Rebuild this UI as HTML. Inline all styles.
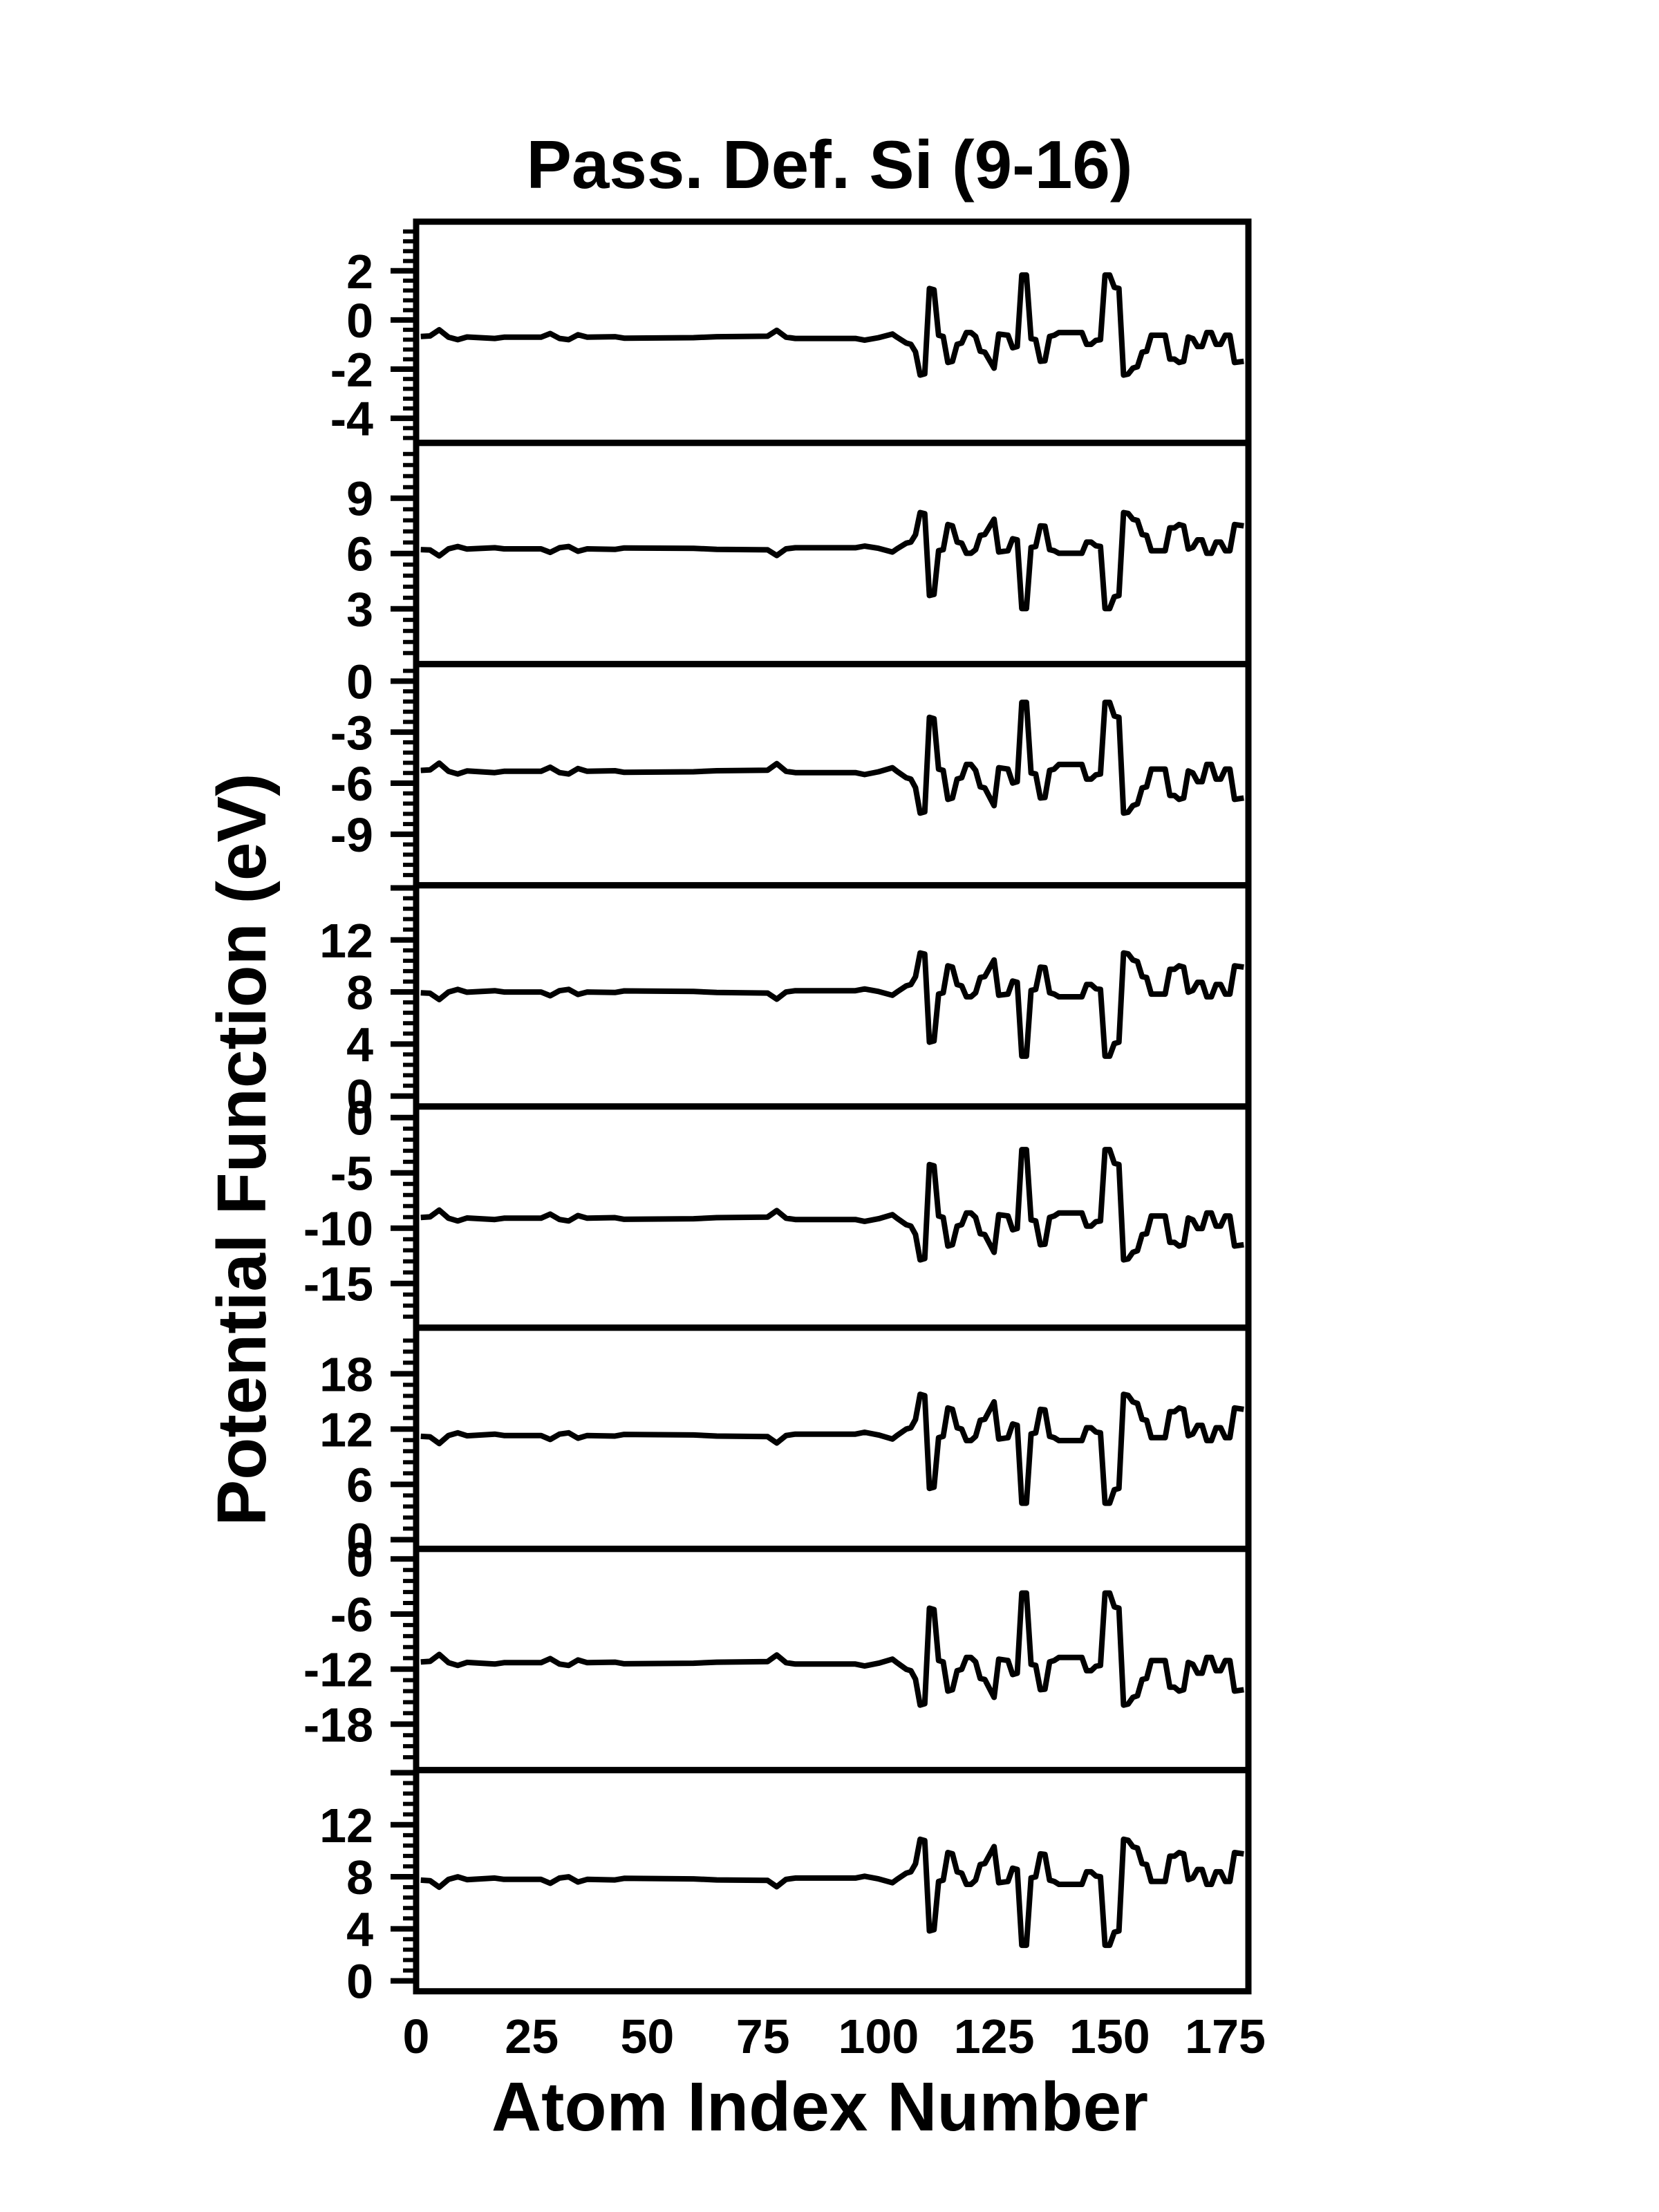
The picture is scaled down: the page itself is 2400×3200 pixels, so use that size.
<!DOCTYPE html>
<html><head><meta charset="utf-8"><style>
html,body{margin:0;padding:0;background:#fff}
svg{display:block}
text{font-family:"Liberation Sans",Arial,sans-serif;font-weight:bold;fill:#000}
</style></head><body>
<svg id="chart" width="2400" height="3200" viewBox="0 0 2400 3200" xmlns="http://www.w3.org/2000/svg">
<rect width="2400" height="3200" fill="#fff"/>
<text x="1200" y="272" font-size="98" text-anchor="middle">Pass. Def. Si (9-16)</text>
<text x="1186" y="3082" font-size="100" text-anchor="middle">Atom Index Number</text>
<text transform="translate(384,1663) rotate(-90)" font-size="100" text-anchor="middle">Potential Function (eV)</text>
<g id="panels"></g>
</svg>
<script>
const atomIndex=[1,3,5,7,9,11,17,19,27,29,31,33,35,37,43,45,60,65,76,78,80,82,95,97,100,103,104,106,107,108,109,110,111,112,113,114,115,116,117,118,119,120,121,122,123,125,126,128,129,130,131,132,133,134,135,136,137,138,139,144,145,146,147,148,149,150,151,152,153,154,155,156,157,158,159,162,163,164,165,166,167,168,169,170,171,172,173,174,175,176,177,179];
const series1=[-0.67,-0.65,-0.4,-0.7,-0.8,-0.69,-0.75,-0.7,-0.7,-0.55,-0.75,-0.8,-0.6,-0.7,-0.68,-0.74,-0.72,-0.68,-0.66,-0.42,-0.7,-0.75,-0.75,-0.82,-0.72,-0.57,-0.7,-0.94,-0.99,-1.3,-2.24,-2.19,1.28,1.23,-0.62,-0.67,-1.73,-1.68,-0.99,-0.94,-0.51,-0.51,-0.67,-1.27,-1.31,-1.96,-0.57,-0.62,-1.13,-1.08,1.83,1.83,-0.76,-0.8,-1.68,-1.66,-0.67,-0.62,-0.51,-0.51,-0.99,-0.99,-0.83,-0.8,1.83,1.83,1.33,1.28,-2.24,-2.2,-1.96,-1.9,-1.31,-1.27,-0.62,-0.62,-1.59,-1.59,-1.73,-1.68,-0.69,-0.76,-1.08,-1.08,-0.51,-0.51,-0.99,-0.99,-0.62,-0.62,-1.73,-1.68];
const series2=[6.21,6.19,5.87,6.25,6.38,6.24,6.31,6.25,6.25,6.06,6.31,6.38,6.12,6.25,6.22,6.3,6.28,6.22,6.2,5.89,6.25,6.31,6.31,6.4,6.28,6.08,6.25,6.56,6.62,7.02,8.22,8.16,3.72,3.78,6.15,6.21,7.57,7.5,6.62,6.56,6.01,6.01,6.21,6.98,7.03,7.86,6.08,6.15,6.8,6.74,3.01,3.01,6.33,6.38,7.5,7.48,6.21,6.15,6.01,6.01,6.62,6.62,6.42,6.38,3.01,3.01,3.65,3.72,8.22,8.17,7.86,7.79,7.03,6.98,6.15,6.15,7.39,7.39,7.57,7.5,6.24,6.33,6.74,6.74,6.01,6.01,6.62,6.62,6.15,6.15,7.57,7.5];
const series3=[-5.25,-5.22,-4.82,-5.3,-5.46,-5.28,-5.38,-5.3,-5.3,-5.06,-5.38,-5.46,-5.14,-5.3,-5.27,-5.36,-5.33,-5.27,-5.24,-4.85,-5.3,-5.38,-5.38,-5.49,-5.33,-5.09,-5.3,-5.68,-5.76,-6.26,-7.76,-7.68,-2.13,-2.21,-5.17,-5.25,-6.95,-6.87,-5.76,-5.68,-4.9,-4.9,-5.25,-6.21,-6.28,-7.32,-5.09,-5.17,-5.99,-5.91,-1.25,-1.25,-5.4,-5.46,-6.87,-6.84,-5.25,-5.17,-4.9,-4.9,-5.76,-5.76,-5.51,-5.46,-1.25,-1.25,-2.05,-2.13,-7.76,-7.7,-7.32,-7.22,-6.28,-6.21,-5.17,-5.17,-6.72,-6.72,-6.95,-6.87,-5.28,-5.4,-5.91,-5.91,-4.9,-4.9,-5.76,-5.76,-5.17,-5.17,-6.95,-6.87];
const series4=[7.94,7.9,7.42,8,8.2,7.98,8.1,8,8,7.71,8.1,8.2,7.81,8,7.96,8.08,8.04,7.96,7.92,7.45,8,8.1,8.1,8.23,8.04,7.75,8,8.47,8.57,9.17,11.0,10.91,4.14,4.24,7.84,7.94,10.01,9.91,8.57,8.47,7.63,7.63,7.94,9.11,9.19,10.46,7.75,7.84,8.84,8.74,3.07,3.07,8.12,8.2,9.91,9.87,7.94,7.84,7.63,7.63,8.57,8.57,8.25,8.2,3.07,3.07,4.04,4.14,11.0,10.93,10.46,10.34,9.19,9.11,7.84,7.84,9.74,9.74,10.01,9.91,7.98,8.12,8.74,8.74,7.63,7.63,8.57,8.57,7.84,7.84,10.01,9.91];
const series5=[-9.03,-8.98,-8.37,-9.1,-9.35,-9.08,-9.22,-9.1,-9.1,-8.73,-9.22,-9.35,-8.86,-9.1,-9.05,-9.2,-9.15,-9.05,-9.0,-8.41,-9.1,-9.22,-9.22,-9.39,-9.15,-8.78,-9.1,-9.69,-9.81,-10.57,-12.87,-12.75,-4.25,-4.37,-8.9,-9.03,-11.62,-11.5,-9.81,-9.69,-8.63,-8.63,-9.03,-10.5,-10.59,-12.19,-8.78,-8.9,-10.15,-10.03,-2.9,-2.9,-9.25,-9.35,-11.5,-11.45,-9.03,-8.9,-8.63,-8.63,-9.81,-9.81,-9.42,-9.35,-2.9,-2.9,-4.13,-4.25,-12.87,-12.78,-12.19,-12.04,-10.59,-10.5,-8.9,-8.9,-11.28,-11.28,-11.62,-11.5,-9.08,-9.25,-10.03,-10.03,-8.63,-8.63,-9.81,-9.81,-8.9,-8.9,-11.62,-11.5];
const series6=[11.21,11.16,10.43,11.3,11.59,11.27,11.45,11.3,11.3,10.87,11.45,11.59,11.01,11.3,11.24,11.42,11.36,11.24,11.18,10.49,11.3,11.45,11.45,11.65,11.36,10.92,11.3,12.0,12.14,13.04,15.77,15.62,5.56,5.7,11.07,11.21,14.29,14.14,12.14,12.0,10.75,10.75,11.21,12.95,13.07,14.95,10.92,11.07,12.55,12.4,3.96,3.96,11.47,11.59,14.14,14.08,11.21,11.07,10.75,10.75,12.14,12.14,11.68,11.59,3.96,3.96,5.41,5.56,15.77,15.65,14.95,14.78,13.07,12.95,11.07,11.07,13.88,13.88,14.29,14.14,11.27,11.47,12.4,12.4,10.75,10.75,12.14,12.14,11.07,11.07,14.29,14.14];
const series7=[-11.21,-11.15,-10.4,-11.3,-11.6,-11.27,-11.45,-11.3,-11.3,-10.85,-11.45,-11.6,-11.0,-11.3,-11.24,-11.42,-11.36,-11.24,-11.18,-10.46,-11.3,-11.45,-11.45,-11.66,-11.36,-10.91,-11.3,-12.02,-12.17,-13.1,-15.92,-15.77,-5.36,-5.51,-11.06,-11.21,-14.39,-14.24,-12.17,-12.02,-10.73,-10.73,-11.21,-13.01,-13.13,-15.08,-10.91,-11.06,-12.59,-12.44,-3.71,-3.71,-11.48,-11.6,-14.24,-14.18,-11.21,-11.06,-10.73,-10.73,-12.17,-12.17,-11.69,-11.6,-3.71,-3.71,-5.21,-5.36,-15.92,-15.8,-15.08,-14.9,-13.13,-13.01,-11.06,-11.06,-13.97,-13.97,-14.39,-14.24,-11.27,-11.48,-12.44,-12.44,-10.73,-10.73,-12.17,-12.17,-11.06,-11.06,-14.39,-14.24];
const series8=[7.74,7.7,7.2,7.8,8.0,7.78,7.9,7.8,7.8,7.5,7.9,8.0,7.6,7.8,7.76,7.88,7.84,7.76,7.72,7.24,7.8,7.9,7.9,8.04,7.84,7.54,7.8,8.28,8.38,9.0,10.88,10.78,3.84,3.94,7.64,7.74,9.86,9.76,8.38,8.28,7.42,7.42,7.74,8.94,9.02,10.32,7.54,7.64,8.66,8.56,2.74,2.74,7.92,8.0,9.76,9.72,7.74,7.64,7.42,7.42,8.38,8.38,8.06,8.0,2.74,2.74,3.74,3.84,10.88,10.8,10.32,10.2,9.02,8.94,7.64,7.64,9.58,9.58,9.86,9.76,7.78,7.92,8.56,8.56,7.42,7.42,8.38,8.38,7.64,7.64,9.86,9.76];
const yTicks1=[2,0,-2,-4];
const yTicks2=[9,6,3];
const yTicks3=[0,-3,-6,-9];
const yTicks4=[12,8,4,0];
const yTicks5=[0,-5,-10,-15];
const yTicks6=[18,12,6,0];
const yTicks7=[0,-6,-12,-18];
const yTicks8=[12,8,4,0];
const xTicks=[0,25,50,75,100,125,150,175];

const allSeries=[series1,series2,series3,series4,series5,series6,series7,series8];
const allTicks=[yTicks1,yTicks2,yTicks3,yTicks4,yTicks5,yTicks6,yTicks7,yTicks8];
const yDomains=[[-5,4],[0,12],[-12,1],[-0.8,16.2],[-19,1],[-1,23],[-23,1.1],[-0.8,16.2]];

const NS='http://www.w3.org/2000/svg';
const L=602,R=1806,TOP=320.7,PH=320;
const xMin=0,xMax=180;
function xScale(v){return L+(v-xMin)/(xMax-xMin)*(R-L);}
function mk(tag,attrs){const e=document.createElementNS(NS,tag);for(const k in attrs)e.setAttribute(k,attrs[k]);return e;}
const g=document.getElementById('panels');

allSeries.forEach((ser,p)=>{
  const top=TOP+p*PH,bot=top+PH;
  const [lo,hi]=yDomains[p];
  const yScale=v=>bot-(v-lo)/(hi-lo)*PH;
  const pg=mk('g',{});
  
  
  g.appendChild(pg);
  const ticks=allTicks[p];
  const step=Math.abs(ticks[0]-ticks[1]);
  const minor=step/5;
  const start=Math.ceil((lo-ticks[0])/minor);
  for(let i=start;ticks[0]+i*minor<=hi;i++){
    const v=ticks[0]+i*minor;
    const y=yScale(v);
    if(y<=top+3||y>=bot-3)continue;
    const isMajor=Math.abs(Math.round(i/5)*5-i)<1e-9;
    const t=mk('line',{x1:isMajor?565:583,x2:602,y1:y,y2:y,stroke:'#000','stroke-width':isMajor?8:6});
    
    
    pg.appendChild(t);
  }
  ticks.forEach(v=>{
    const y=yScale(v);
    const t=mk('text',{x:540,y:y+25,'font-size':70,'text-anchor':'end'});
    t.textContent=String(v);
    
    
    pg.appendChild(t);
  });
  const pts=atomIndex.map((xi,i)=>xScale(xi).toFixed(1)+','+yScale(ser[i]).toFixed(1)).join(' ');
  const line=mk('polyline',{points:pts,fill:'none',stroke:'#000','stroke-width':8,'stroke-linejoin':'round'});
  
  
  pg.appendChild(line);
  const fr=mk('rect',{x:L,y:top,width:R-L,height:PH,fill:'none',stroke:'#000','stroke-width':9});
  
  
  pg.appendChild(fr);
});
xTicks.forEach(v=>{
  const t=mk('text',{x:xScale(v),y:2970,'font-size':70,'text-anchor':'middle'});
  t.textContent=String(v);
  
  
  g.appendChild(t);
});
</script>
</body></html>
